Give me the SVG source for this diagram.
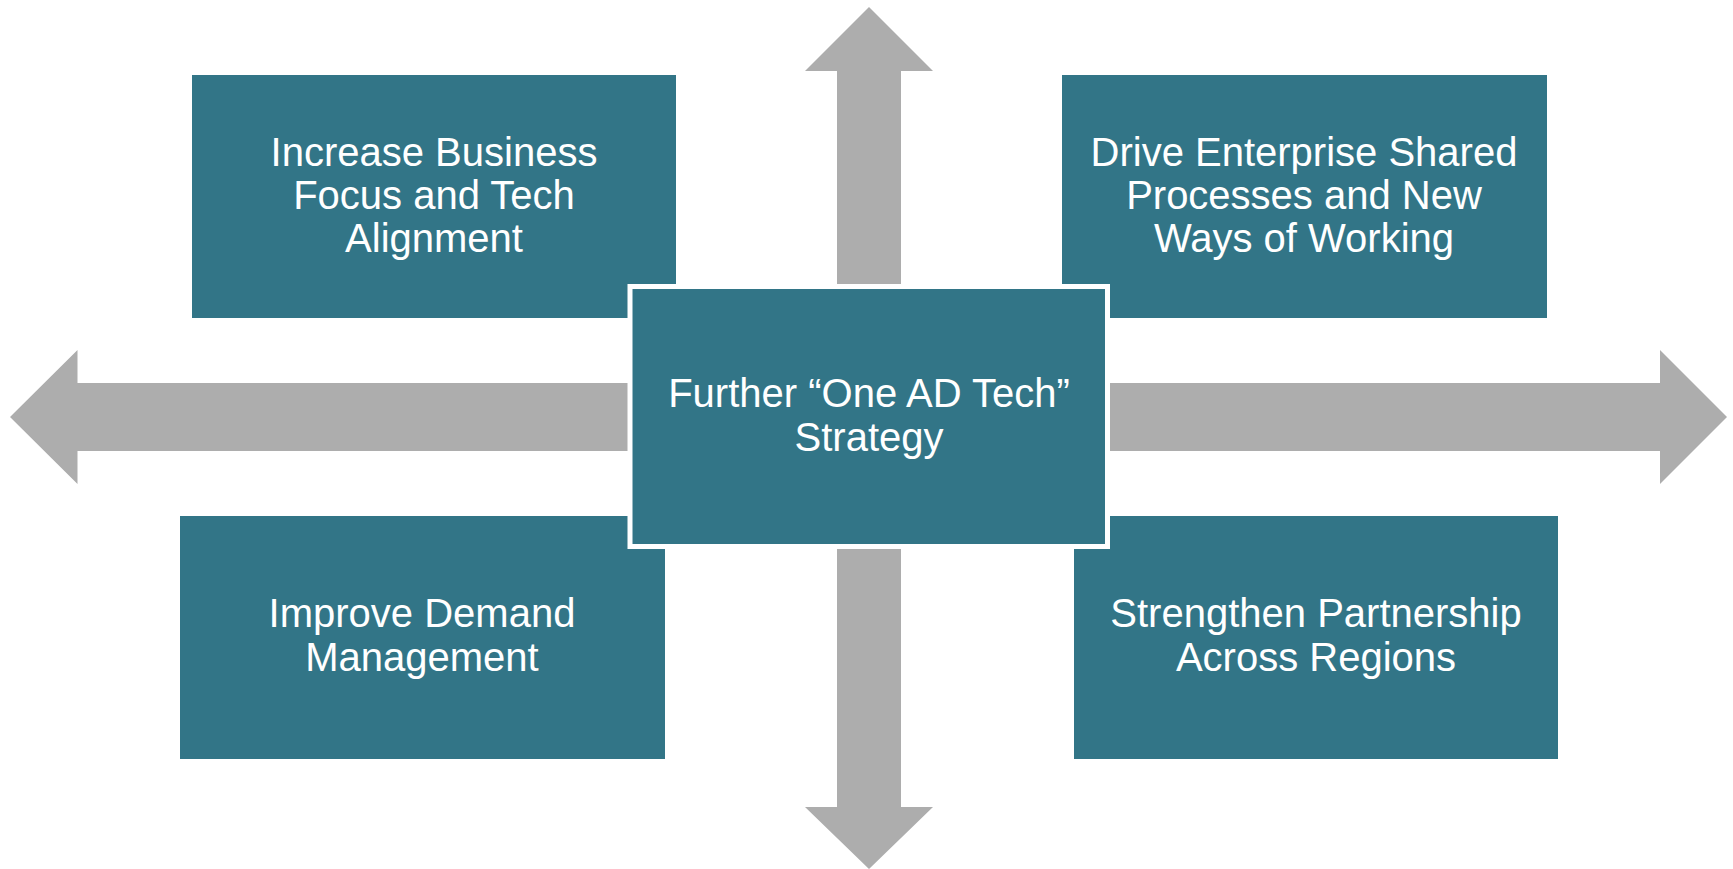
<svg xmlns="http://www.w3.org/2000/svg" width="1733" height="869" viewBox="0 0 1733 869">
<style>
.arrow{fill:#ADADAD;stroke:none}
.box{fill:#327587}
.center{fill:#327587;stroke:#FFFFFF;stroke-width:5}
.lbl{font-family:"Liberation Sans",Arial,sans-serif;font-size:40px;fill:#FFFFFF;text-anchor:middle}
</style>
<rect width="1733" height="869" fill="#FFFFFF"/>
<g id="connectors">
<polygon class="arrow" points="869,7 933,71 901,71 901,286 837,286 837,71 805,71"/>
<polygon class="arrow" points="837,548 901,548 901,807 933,807 869,869 805,807 837,807"/>
<polygon class="arrow" points="10,417 77.5,350 77.5,383 630,383 630,451 77.5,451 77.5,484"/>
<polygon class="arrow" points="1108,383 1660,383 1660,350 1727,417 1660,484 1660,451 1108,451"/>
</g>
<g id="node-business">
<rect class="box" x="192" y="75" width="484" height="243"/>
<text class="lbl"><tspan x="434" y="165.7">Increase Business</tspan><tspan x="434" y="209">Focus and Tech</tspan><tspan x="434" y="251.7">Alignment</tspan></text>
</g>
<g id="node-enterprise">
<rect class="box" x="1062" y="75" width="485" height="243"/>
<text class="lbl"><tspan x="1304" y="165.7">Drive Enterprise Shared</tspan><tspan x="1304" y="209">Processes and New</tspan><tspan x="1304" y="251.7">Ways of Working</tspan></text>
</g>
<g id="node-demand">
<rect class="box" x="180" y="516" width="485" height="243"/>
<text class="lbl"><tspan x="422" y="627.3">Improve Demand</tspan><tspan x="422" y="670.7">Management</tspan></text>
</g>
<g id="node-partnership">
<rect class="box" x="1074" y="516" width="484" height="243"/>
<text class="lbl"><tspan x="1316" y="627.3">Strengthen Partnership</tspan><tspan x="1316" y="670.7">Across Regions</tspan></text>
</g>
<g id="node-center">
<rect class="center" x="630" y="286.5" width="477.5" height="260"/>
<text class="lbl"><tspan x="869" y="407.3">Further “One AD Tech”</tspan><tspan x="869" y="450.7">Strategy</tspan></text>
</g>
</svg>
